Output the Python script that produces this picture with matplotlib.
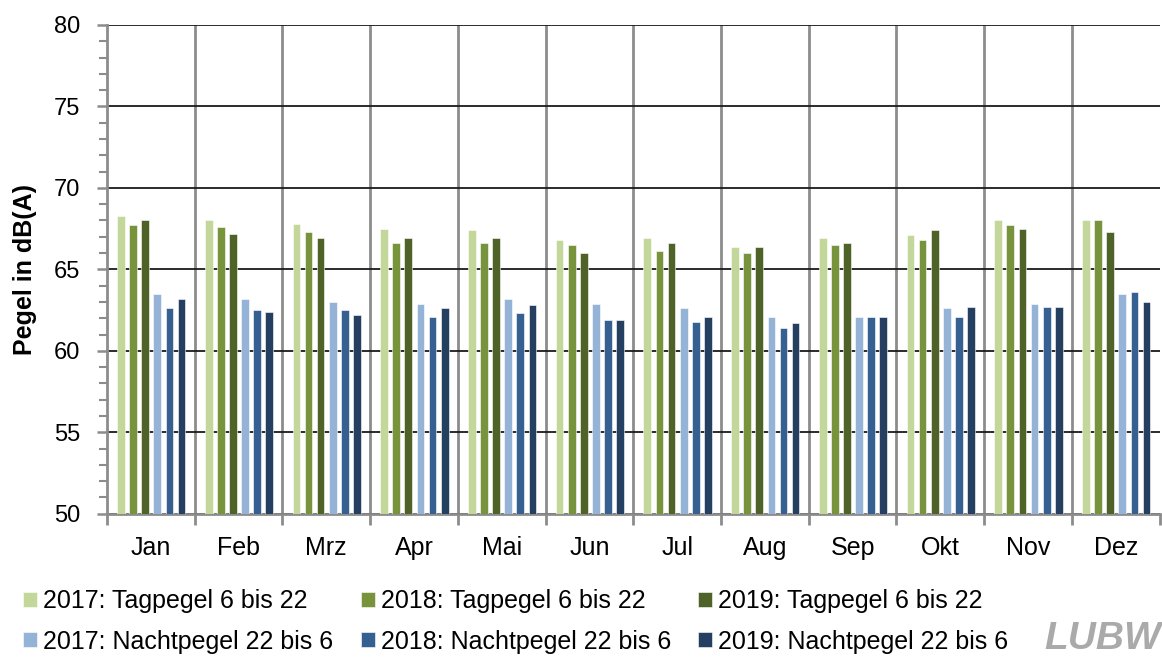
import numpy as np
import matplotlib.pyplot as plt
from matplotlib.ticker import MultipleLocator

plt.rcParams['font.family'] = ['Liberation Sans', 'DejaVu Sans']

months = ["Jan", "Feb", "Mrz", "Apr", "Mai", "Jun",
          "Jul", "Aug", "Sep", "Okt", "Nov", "Dez"]

tag_2017 = [68.3, 68.0, 67.8, 67.5, 67.4, 66.8, 66.9, 66.4, 66.9, 67.1, 68.0, 68.0]
tag_2018 = [67.7, 67.6, 67.3, 66.6, 66.6, 66.5, 66.1, 66.0, 66.5, 66.8, 67.7, 68.0]
tag_2019 = [68.0, 67.2, 66.9, 66.9, 66.9, 66.0, 66.6, 66.4, 66.6, 67.4, 67.5, 67.3]
nacht_2017 = [63.5, 63.2, 63.0, 62.9, 63.2, 62.9, 62.6, 62.1, 62.1, 62.6, 62.9, 63.5]
nacht_2018 = [62.6, 62.5, 62.5, 62.1, 62.3, 61.9, 61.8, 61.4, 62.1, 62.1, 62.7, 63.6]
nacht_2019 = [63.2, 62.4, 62.2, 62.6, 62.8, 61.9, 62.1, 61.7, 62.1, 62.7, 62.7, 63.0]

series = [
    ("2017: Tagpegel 6 bis 22", tag_2017, "#c4d79b"),
    ("2018: Tagpegel 6 bis 22", tag_2018, "#77933c"),
    ("2019: Tagpegel 6 bis 22", tag_2019, "#4f6228"),
    ("2017: Nachtpegel 22 bis 6", nacht_2017, "#95b3d7"),
    ("2018: Nachtpegel 22 bis 6", nacht_2018, "#366092"),
    ("2019: Nachtpegel 22 bis 6", nacht_2019, "#243f60"),
]

GRAY = "#8c8c8c"

fig = plt.figure(figsize=(11.62, 6.57), dpi=100)
ax = fig.add_axes([0.092, 0.218, 0.906, 0.744])

x = np.arange(len(months))
step = 0.138
width = 0.088
handles = []
for i, (label, vals, col) in enumerate(series):
    off = (i - 2.5) * step + 0.005
    b = ax.bar(x + off, np.array(vals) - 50, width, bottom=50, color=col,
               edgecolor="white", linewidth=0.4, label=label, zorder=3)
    handles.append(b)

ax.set_xlim(-0.5, len(months) - 0.5)
ax.set_ylim(50, 80)
ax.yaxis.set_major_locator(MultipleLocator(5))
ax.yaxis.set_minor_locator(MultipleLocator(1))
ax.set_xticks(x)
ax.set_xticklabels(months, fontsize=18)
ax.set_xticks(np.arange(-0.5, len(months), 1), minor=True)
ax.tick_params(axis='y', labelsize=17, length=7, color=GRAY, width=1.8, pad=12)
ax.tick_params(axis='y', which='minor', length=6, color=GRAY, width=1.5)
ax.tick_params(axis='x', length=0, pad=16)
ax.tick_params(axis='x', which='minor', length=8, color=GRAY, width=2)

# gridlines: black horizontal, gray vertical between months
ax.grid(axis='y', color="#1a1a1a", linewidth=1.3, zorder=1)
for xb in np.arange(0.5, len(months) - 0.5, 1):
    ax.axvline(xb, color=GRAY, linewidth=2, zorder=1)

for s in ["top", "right"]:
    ax.spines[s].set_visible(False)
ax.spines["left"].set_color(GRAY)
ax.spines["left"].set_linewidth(2)
ax.spines["bottom"].set_color(GRAY)
ax.spines["bottom"].set_linewidth(2)

ax.set_ylabel("Pegel in dB(A)", fontsize=18, fontweight="bold", labelpad=12)

# row-major legend order for a 2x3 layout
order = [0, 3, 1, 4, 2, 5]
fig.legend(handles=[handles[k] for k in order],
           labels=[series[k][0] for k in order], loc="lower left",
           bbox_to_anchor=(23 / 1162, 0.005), ncol=3, frameon=False, fontsize=18,
           handlelength=0.56, handleheight=0.56, handletextpad=0.24,
           columnspacing=1.1, labelspacing=0.65, borderpad=0, borderaxespad=0)

fig.text(0.999, 0.0, "LUBW", ha="right", va="bottom", fontsize=28,
         fontweight="bold", fontstyle="italic", color="#aaaaaa")

fig.savefig("out.png", dpi=100)
